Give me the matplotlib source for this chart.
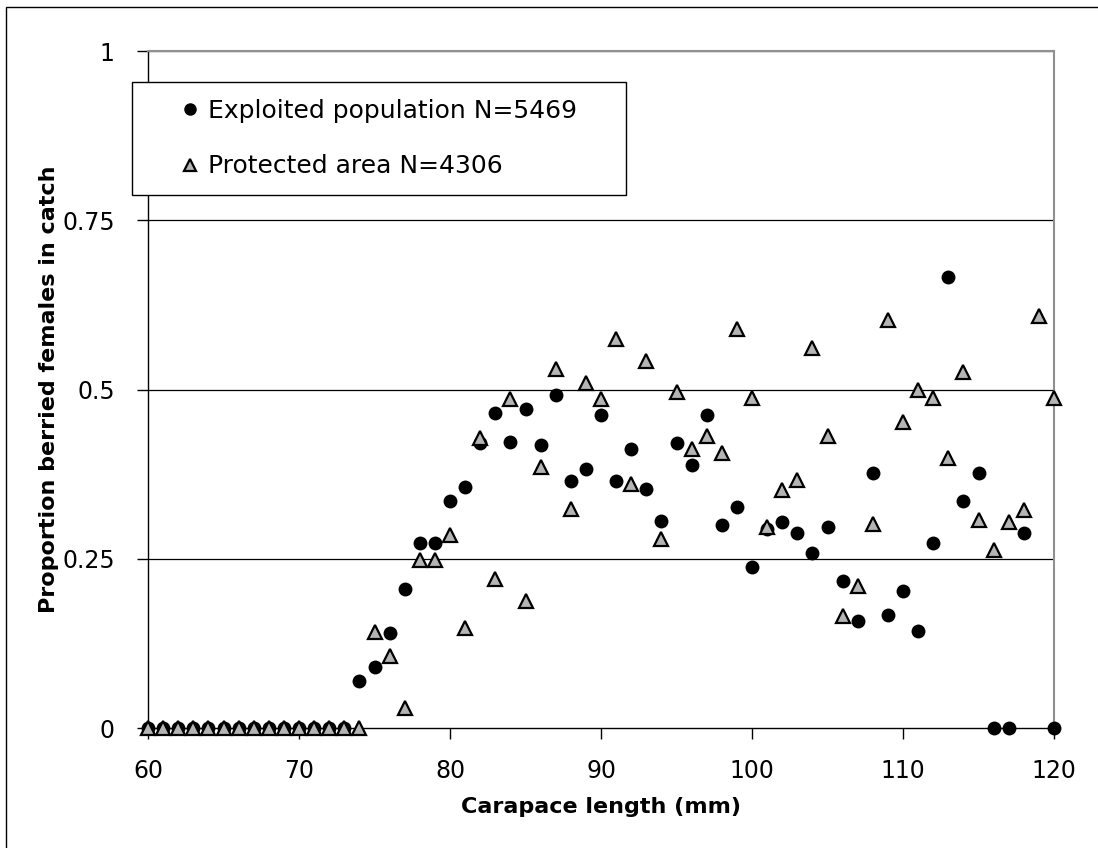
import numpy as np
import matplotlib
matplotlib.use('Agg')
import matplotlib.pyplot as plt
from matplotlib.patches import Rectangle

# Длина карапакса (мм)
length = np.arange(60, 121)

# Доля самок с икрой: эксплуатируемая популяция (нет точки при 119 мм)
exploited = [0, 0, 0, 0, 0, 0, 0, 0, 0, 0, 0, 0, 0, 0,
             0.069, 0.090, 0.140, 0.205, 0.273, 0.273, 0.335, 0.356, 0.421, 0.465,
             0.423, 0.471, 0.418, 0.492, 0.365, 0.383, 0.462, 0.365, 0.412, 0.353,
             0.306, 0.421, 0.388, 0.462, 0.300, 0.326, 0.238, 0.294, 0.305, 0.288,
             0.258, 0.297, 0.217, 0.158, 0.377, 0.167, 0.202, 0.143, 0.273, 0.666,
             0.335, 0.377, 0, 0, 0.288, np.nan, 0]

# Охраняемая зона
protected = [0, 0, 0, 0, 0, 0, 0, 0, 0, 0, 0, 0, 0, 0, 0,
             0.142, 0.107, 0.030, 0.248, 0.248, 0.285, 0.148, 0.428, 0.220, 0.486,
             0.187, 0.385, 0.530, 0.323, 0.509, 0.486, 0.574, 0.361, 0.542, 0.279,
             0.497, 0.412, 0.432, 0.406, 0.589, 0.488, 0.297, 0.352, 0.366, 0.561,
             0.431, 0.165, 0.210, 0.301, 0.603, 0.452, 0.499, 0.487, 0.399, 0.526,
             0.307, 0.263, 0.304, 0.322, 0.609, 0.487]

labels = ['Exploited population N=5469', 'Protected area N=4306']
yticks = [0, 0.25, 0.5, 0.75, 1]
ytick_labels = ['0', '0.25', '0.5', '0.75', '1']
xticks = [60, 70, 80, 90, 100, 110, 120]

W, H = 1098, 848
fig = plt.figure(figsize=(W / 100, H / 100), dpi=100)
ax = fig.add_axes([148 / W, 1 - 728 / H, (1054 - 148) / W, (728 - 51) / H])

ax.plot(length, exploited, 'o', color='black', markersize=10, markeredgewidth=0,
        label=labels[0], clip_on=False, zorder=3)
ax.plot(length, protected, '^', markerfacecolor='#b4b4b4', markeredgecolor='black',
        markersize=9.5, markeredgewidth=1.6, label=labels[1], clip_on=False, zorder=4)

ax.set_xlim(60, 120)
ax.set_ylim(0, 1)
ax.set_xticks(xticks)
ax.set_yticks(yticks)
ax.set_yticklabels(ytick_labels)
ax.tick_params(axis='both', direction='out', length=8, width=1, labelsize=17)
ax.tick_params(axis='y', pad=16)
ax.tick_params(axis='x', pad=14)

# Горизонтальная сетка
for yv in yticks[1:]:
    ax.axhline(yv, color='black', linewidth=0.9, zorder=1)

for s in ['left', 'bottom']:
    ax.spines[s].set_color('black')
    ax.spines[s].set_linewidth(1)
for s in ['top', 'right']:
    ax.spines[s].set_color('#909090')
    ax.spines[s].set_linewidth(1.5)

ax.set_xlabel('Carapace length (mm)', fontsize=16, fontweight='bold')
ax.set_ylabel('Proportion berried females in catch', fontsize=16, fontweight='bold')
ax.xaxis.set_label_coords(0.5, -0.102)
ax.yaxis.set_label_coords(-0.098, 0.5)

# Рамка легенды
box = Rectangle((132 / W, 1 - 195 / H), (626 - 132) / W, (195 - 82) / H,
                transform=fig.transFigure, facecolor='white', edgecolor='black',
                linewidth=1, zorder=10, clip_on=False)
ax.add_patch(box)
leg = ax.legend(loc='upper left', bbox_to_anchor=(180 / W, 1 - 99 / H),
                bbox_transform=fig.transFigure, frameon=False, fontsize=18,
                handlelength=0.8, handletextpad=0.3, labelspacing=1.25,
                borderpad=0, borderaxespad=0, markerscale=0.9)
leg.set_zorder(11)

# Внешняя рамка
fig.patches.append(Rectangle((6 / W, -0.1), 2, 1 - 7 / H + 0.1,
                             transform=fig.transFigure, fill=False,
                             edgecolor='black', linewidth=1))

fig.savefig('out.png', dpi=100)
